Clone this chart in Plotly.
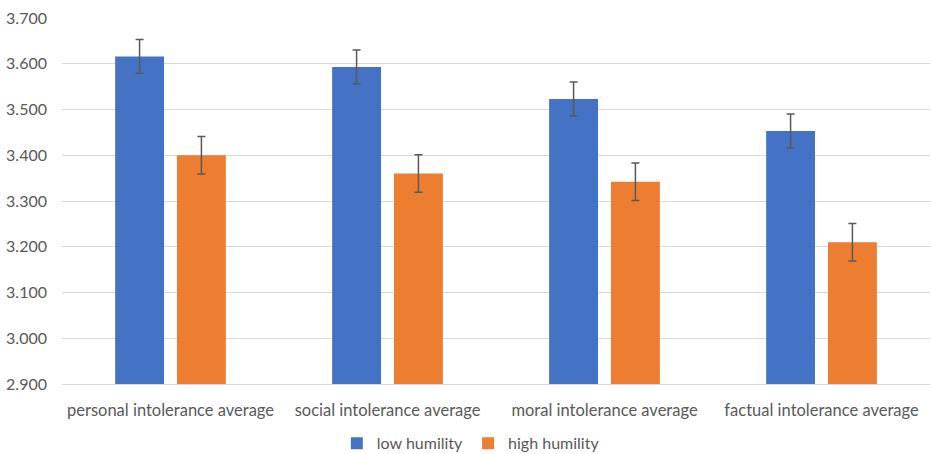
import plotly.graph_objects as go

categories = ["personal intolerance average", "social intolerance average",
              "moral intolerance average", "factual intolerance average"]
low_humility = [3.616, 3.593, 3.523, 3.453]
low_err = [0.037, 0.037, 0.037, 0.037]
high_humility = [3.400, 3.360, 3.342, 3.210]
high_err = [0.041, 0.041, 0.041, 0.041]
y_ticks = [2.9, 3.0, 3.1, 3.2, 3.3, 3.4, 3.5, 3.6, 3.7]

font_family = "Lato, Carlito, Calibri, sans-serif"
err_style = dict(type="data", visible=True, color="#595959", thickness=1.5, width=4)

fig = go.Figure()
fig.add_trace(go.Bar(
    x=categories, y=low_humility, name="low humility",
    marker=dict(color="#4472C4", line=dict(width=0)),
    error_y=dict(array=low_err, **err_style),
))
fig.add_trace(go.Bar(
    x=categories, y=high_humility, name="high humility",
    marker=dict(color="#ED7D31", line=dict(width=0)),
    error_y=dict(array=high_err, **err_style),
))

fig.update_layout(
    width=932, height=454,
    margin=dict(l=62, r=2, t=18, b=70, autoexpand=False),
    paper_bgcolor="white", plot_bgcolor="white",
    barmode="group", bargap=0.43, bargroupgap=0.21,
    font=dict(family=font_family, size=16.5, color="#595959"),
    showlegend=True,
    legend=dict(orientation="h", x=0.471, xanchor="center", y=-0.162, yanchor="middle",
                font=dict(size=16, color="#595959"), itemwidth=30, traceorder="normal",
                bgcolor="rgba(0,0,0,0)"),
)
fig.update_yaxes(
    range=[2.9, 3.7], tickvals=y_ticks, tickformat=".3f",
    showgrid=True, gridcolor="#D9D9D9", gridwidth=1,
    zeroline=False, showline=False, ticks="", automargin=False,
    ticklabelstandoff=14,
    tickfont=dict(size=16, color="#595959"),
)
fig.update_xaxes(
    showline=True, linecolor="#D9D9D9", linewidth=1, ticks="", automargin=False,
    ticklabelstandoff=11,
    tickfont=dict(size=16.5, color="#595959"),
)

fig.write_html("out.html", config={"displayModeBar": False},
               post_script="document.body.style.margin='0';")
